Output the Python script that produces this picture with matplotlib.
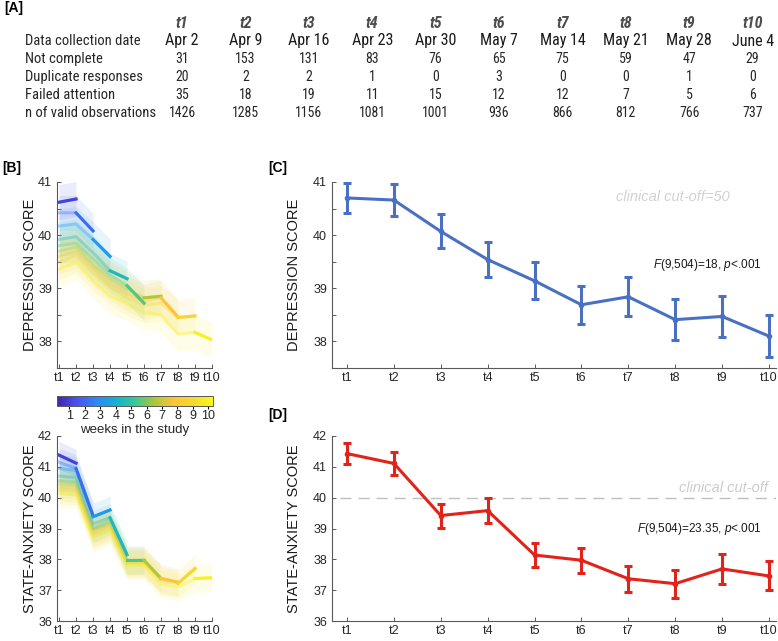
import numpy as np
import matplotlib.pyplot as plt
from matplotlib.colors import LinearSegmentedColormap, Normalize
from matplotlib.cm import ScalarMappable

plt.rcParams['font.family'] = ['Liberation Sans', 'DejaVu Sans']
plt.rcParams['mathtext.fontset'] = 'custom'
plt.rcParams['mathtext.it'] = 'Liberation Sans:italic'
plt.rcParams['mathtext.rm'] = 'Liberation Sans'

# ---- data: table [A]
waves = ["t1", "t2", "t3", "t4", "t5", "t6", "t7", "t8", "t9", "t10"]
dates = ["Apr 2", "Apr 9", "Apr 16", "Apr 23", "Apr 30", "May 7", "May 14",
         "May 21", "May 28", "June 4"]
not_complete = [31, 153, 131, 83, 76, 65, 75, 59, 47, 29]
duplicates = [20, 2, 2, 1, 0, 3, 0, 0, 1, 0]
failed_attention = [35, 18, 19, 11, 15, 12, 12, 7, 5, 6]
n_valid = [1426, 1285, 1156, 1081, 1001, 936, 866, 812, 766, 737]

# ---- data: [B] means per cohort (weeks in the study = 2..10)
dep_cohorts = {
    2: [40.62, 40.68],
    3: [40.42, 40.42, 40.08],
    4: [40.17, 40.21, 39.92, 39.60],
    5: [39.92, 39.97, 39.67, 39.33, 39.18],
    6: [39.80, 39.85, 39.55, 39.25, 39.05, 38.72],
    7: [39.70, 39.78, 39.45, 39.18, 38.98, 38.82, 38.85],
    8: [39.60, 39.70, 39.38, 39.10, 38.90, 38.75, 38.82, 38.46],
    9: [39.50, 39.62, 39.30, 39.02, 38.82, 38.68, 38.72, 38.45, 38.48],
    10: [39.35, 39.50, 39.15, 38.85, 38.72, 38.55, 38.50, 38.14, 38.17, 38.03],
}
anx_cohorts = {
    2: [41.38, 41.12],
    3: [41.15, 40.95, 39.42],
    4: [40.95, 40.88, 39.38, 39.60],
    5: [40.70, 40.65, 39.15, 39.35, 38.15],
    6: [40.55, 40.50, 39.00, 39.25, 37.97, 37.97],
    7: [40.45, 40.40, 38.95, 39.15, 37.95, 37.97, 37.38],
    8: [40.35, 40.30, 38.85, 39.10, 37.90, 37.90, 37.38, 37.26],
    9: [40.25, 40.20, 38.80, 39.00, 37.85, 37.85, 37.30, 37.22, 37.70],
    10: [40.15, 40.10, 38.70, 38.95, 37.80, 37.80, 37.20, 37.10, 37.38, 37.40],
}
dep_ci = 0.33
anx_ci = 0.45

# ---- data: [C] and [D] overall means with error bars
dep_mean = [40.70, 40.66, 40.07, 39.54, 39.14, 38.69, 38.84, 38.41, 38.47, 38.10]
dep_err = [0.29, 0.30, 0.32, 0.33, 0.35, 0.36, 0.37, 0.38, 0.39, 0.40]
anx_mean = [41.43, 41.11, 39.42, 39.58, 38.14, 37.97, 37.37, 37.21, 37.69, 37.46]
anx_err = [0.35, 0.37, 0.39, 0.40, 0.40, 0.41, 0.42, 0.45, 0.48, 0.47]

# parula-like colormap
parula = LinearSegmentedColormap.from_list("parula", [
    (0.2422, 0.1504, 0.6603), (0.2810, 0.3228, 0.9579), (0.1786, 0.5289, 0.9682),
    (0.0689, 0.6948, 0.8394), (0.2161, 0.7843, 0.5923), (0.6720, 0.7793, 0.2227),
    (0.9970, 0.7659, 0.2199), (0.9657, 0.8500, 0.1700), (0.9769, 0.9839, 0.0805)])
norm = Normalize(vmin=0.2, vmax=10.3)


def cohort_color(k):
    # cohorts 2..10 spread over the 1..10 colour scale
    return parula(norm(1 + (k - 2) * 9 / 8))


W, H = 778, 641
fig = plt.figure(figsize=(W / 100, H / 100), dpi=100)


def rect(x0, y0, x1, y1):
    return [x0 / W, 1 - y1 / H, (x1 - x0) / W, (y1 - y0) / H]


def style_axes(ax):
    for s in ["top", "right"]:
        ax.spines[s].set_visible(False)
    for s in ["left", "bottom"]:
        ax.spines[s].set_color("0.35")
        ax.spines[s].set_linewidth(0.8)
    ax.tick_params(direction="in", length=3, width=0.7, color="0.35",
                   labelsize=9, labelcolor="0.15")
    ax.tick_params(axis="x", pad=3)


def set_yticks(ax, lo, hi, step):
    ticks = np.arange(lo, hi + 1e-9, step)
    ax.set_yticks(ticks)
    ax.set_yticklabels([f"{t:.0f}" if abs(t - round(t)) < 1e-9 else "" for t in ticks])


# ---- [A] table
narrow = ["Liberation Sans Narrow", "Roboto Condensed", "Open Sans Condensed",
          "DejaVu Sans Condensed", "Liberation Sans"]
fig.text(4 / W, 1 - 8 / H, "[A]", fontsize=10, fontweight="bold", va="center")
col_x = [182 + 63.4 * i for i in range(10)]
rows = [("Not complete", not_complete), ("Duplicate responses", duplicates),
        ("Failed attention", failed_attention), ("n of valid observations", n_valid)]
fig.text(25 / W, 1 - 41 / H, "Data collection date", fontsize=10.5, family=narrow,
         fontstretch="condensed", va="center", color="0.15")
for i in range(10):
    fig.text(col_x[i] / W, 1 - 24 / H, waves[i], fontsize=11.5, family=narrow,
             fontstretch="condensed", fontweight="bold", style="italic",
             ha="center", va="center", color="0.3")
    fig.text(col_x[i] / W, 1 - 41 / H, dates[i], fontsize=11.5, family=narrow,
             fontstretch="condensed", ha="center", va="center", color="0.1")
for r, (label, vals) in enumerate(rows):
    y = 59 + 18 * r
    fig.text(25 / W, 1 - y / H, label, fontsize=10.5, family=narrow,
             fontstretch="condensed", va="center", color="0.15")
    for i in range(10):
        fig.text(col_x[i] / W, 1 - y / H, str(vals[i]), fontsize=10, family=narrow,
                 fontstretch="condensed", ha="center", va="center", color="0.15")


# ---- [B] cohort panels
def cohort_panel(ax, cohorts, ci):
    for k, vals in cohorts.items():
        x = np.arange(1, k + 1)
        v = np.array(vals)
        ax.fill_between(x, v - ci, v + ci, color=cohort_color(k), alpha=0.1, lw=0)
    for k, vals in cohorts.items():
        x = np.arange(1, k + 1)
        ax.plot(x, vals, color=cohort_color(k), lw=2.2, alpha=0.35)
    for k, vals in cohorts.items():
        x = np.arange(1, k + 1)
        ax.plot(x[-2:], vals[-2:], color=cohort_color(k), lw=2.2)
    ax.set_xlim(0.88, 10)
    ax.set_xticks(range(1, 11))
    ax.set_xticklabels(waves)
    style_axes(ax)


fig.text(2 / W, 1 - 168 / H, "[B]", fontsize=10, fontweight="bold", va="center")
axb1 = fig.add_axes(rect(57, 182, 212, 368))
cohort_panel(axb1, dep_cohorts, dep_ci)
axb1.set_ylim(37.5, 41)
set_yticks(axb1, 37.5, 41, 0.5)
axb1.set_ylabel("DEPRESSION SCORE", fontsize=10.5, color="0.1", labelpad=1)

cax = fig.add_axes(rect(57, 396, 213, 406))
cb = fig.colorbar(ScalarMappable(norm=norm, cmap=parula), cax=cax,
                  orientation="horizontal", ticks=range(1, 11))
cb.outline.set_edgecolor("0.35")
cb.outline.set_linewidth(0.7)
cax.tick_params(labelsize=9, length=2, pad=1, labelcolor="0.15")
cb.set_label("weeks in the study", fontsize=9.5, labelpad=1, color="0.15")

axb2 = fig.add_axes(rect(57, 436, 212, 621))
cohort_panel(axb2, anx_cohorts, anx_ci)
axb2.set_ylim(36, 42)
set_yticks(axb2, 36, 42, 1)
axb2.set_ylabel("STATE-ANXIETY SCORE", fontsize=10.5, color="0.1", labelpad=1)


# ---- [C] and [D]
def mean_panel(ax, mean, err, color):
    x = np.arange(1, 11)
    ax.errorbar(x, mean, yerr=err, color=color, lw=2.2, elinewidth=2.2,
                capsize=2.6, capthick=2.2, marker="o", markersize=3)
    ax.set_xlim(0.68, 10.15)
    ax.set_xticks(x)
    ax.set_xticklabels(waves)
    style_axes(ax)


blue = "#4a70c4"
red = "#e2231a"
fig.text(268 / W, 1 - 168 / H, "[C]", fontsize=10, fontweight="bold", va="center")
axc = fig.add_axes(rect(332, 182, 776, 368))
mean_panel(axc, dep_mean, dep_err, blue)
axc.set_ylim(37.5, 41)
set_yticks(axc, 37.5, 41, 0.5)
axc.set_ylabel("DEPRESSION SCORE", fontsize=10.5, color="0.1", labelpad=9)
axc.text(9.17, 40.72, "clinical cut-off=50", fontsize=10.5, style="italic",
         color="0.82", ha="right", va="center")
axc.text(7.52, 39.44, r"$\it{F}$(9,504)=18, $\it{p}$<.001", fontsize=8.5,
         color="0.1", ha="left", va="center")

fig.text(268 / W, 1 - 415 / H, "[D]", fontsize=10, fontweight="bold", va="center")
axd = fig.add_axes(rect(332, 436, 776, 621))
axd.plot([0.85, 10.15], [40, 40], color="0.75", lw=1, dashes=(8, 5))
mean_panel(axd, anx_mean, anx_err, red)
axd.set_ylim(36, 42)
set_yticks(axd, 36, 42, 1)
axd.set_ylabel("STATE-ANXIETY SCORE", fontsize=10.5, color="0.1", labelpad=9)
axd.text(9.98, 40.32, "clinical cut-off", fontsize=10.5, style="italic",
         color="0.8", ha="right", va="center")
axd.text(7.18, 38.98, r"$\it{F}$(9,504)=23.35, $\it{p}$<.001", fontsize=8.5,
         color="0.1", ha="left", va="center")

fig.savefig("out.png", dpi=100)
